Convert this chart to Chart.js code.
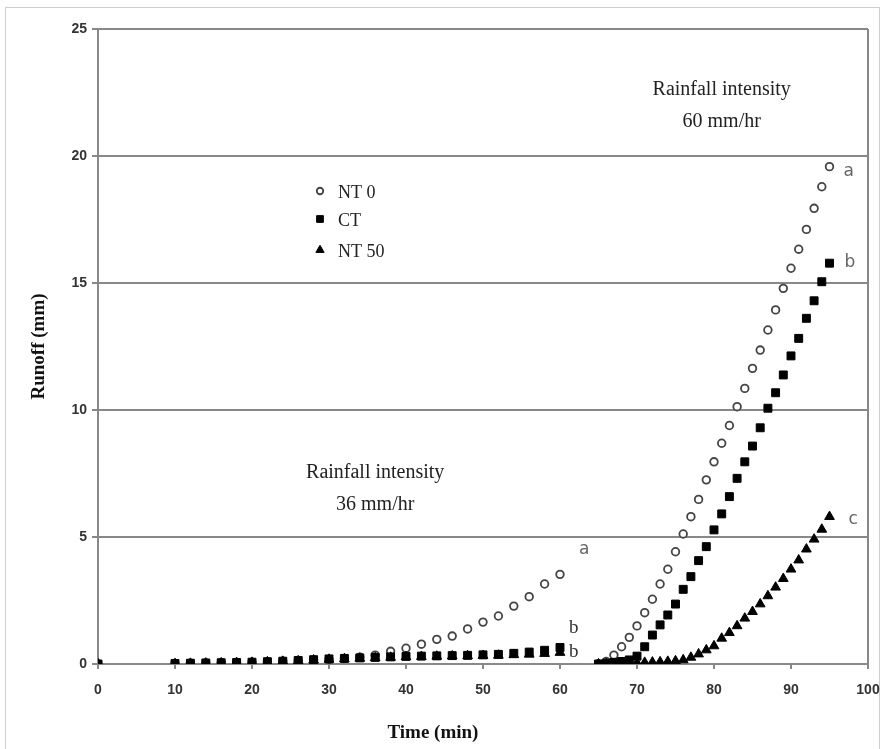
<!DOCTYPE html>
<html>
<head>
<meta charset="utf-8">
<script src="https://cdn.jsdelivr.net/npm/chart.js@4.4.0/dist/chart.umd.min.js"></script>
<style>
html,body{margin:0;padding:0;background:#fff}
#wrap{width:883px;height:749px;position:relative}
</style>
</head>
<body>
<div id="wrap"><canvas id="runoff" width="883" height="749"></canvas></div>
<script>
// first storm: 36 mm/hr, readings every 2 min
const time36=[0,10,12,14,16,18,20,22,24,26,28,30,32,34,36,38,40,42,44,46,48,50,52,54,56,58,60];
const nt0_36 =[0,0.02,0.03,0.04,0.05,0.06,0.07,0.09,0.11,0.13,0.15,0.18,0.22,0.27,0.35,0.5,0.62,0.78,0.97,1.1,1.38,1.65,1.89,2.28,2.65,3.15,3.53];
const ct_36  =[0,0.02,0.03,0.04,0.05,0.06,0.07,0.09,0.11,0.14,0.17,0.2,0.22,0.24,0.26,0.28,0.3,0.31,0.32,0.33,0.34,0.36,0.38,0.42,0.47,0.54,0.65];
const nt50_36=[0,0.01,0.02,0.03,0.04,0.05,0.06,0.08,0.1,0.12,0.15,0.18,0.2,0.22,0.24,0.26,0.28,0.29,0.3,0.31,0.32,0.33,0.34,0.36,0.38,0.41,0.45];

// second storm: 60 mm/hr, readings every minute
const time60=[65,66,67,68,69,70,71,72,73,74,75,76,77,78,79,80,81,82,83,84,85,86,87,88,89,90,91,92,93,94,95];
const nt0_60 =[0,0.1,0.35,0.68,1.05,1.5,2.02,2.55,3.15,3.73,4.42,5.12,5.8,6.48,7.25,7.96,8.69,9.39,10.13,10.85,11.64,12.36,13.15,13.94,14.79,15.58,16.33,17.11,17.94,18.79,19.58];
const ct_60  =[0,0.03,0.06,0.1,0.16,0.31,0.68,1.14,1.54,1.93,2.36,2.94,3.44,4.07,4.62,5.28,5.91,6.59,7.31,7.96,8.58,9.3,10.07,10.68,11.38,12.13,12.82,13.61,14.3,15.05,15.78];
const nt50_60=[0,0.01,0.02,0.03,0.04,0.05,0.06,0.07,0.08,0.1,0.12,0.16,0.26,0.39,0.55,0.71,1.01,1.23,1.5,1.8,2.06,2.36,2.68,3.02,3.36,3.73,4.09,4.52,4.91,5.3,5.8];

const seriesNames=['NT 0','CT','NT 50'];
// significance letters at the end of each storm
const letters36=['a','b','b'];
const letters60=['a','b','c'];

const GRID='#888';
const SERIF='"Liberation Serif","Times New Roman",serif';
const TICKFONT='"Liberation Sans Narrow","Liberation Sans",Arial,sans-serif';

function pts(t,v){return t.map((x,i)=>({x:x,y:v[i]}));}

const datasets=[
  {label:seriesNames[0],data:pts(time36,nt0_36).concat(pts(time60,nt0_60)),
   pointStyle:'circle',pointRadius:3.8,borderWidth:1.8,borderColor:'#444',backgroundColor:'#fff',order:3},
  {label:seriesNames[1],data:pts(time36,ct_36).concat(pts(time60,ct_60)),
   pointStyle:'rect',pointRadius:5.6,borderWidth:1,borderColor:'#000',backgroundColor:'#000',order:1},
  {label:seriesNames[2],data:pts(time36,nt50_36).concat(pts(time60,nt50_60)),
   pointStyle:'triangle',pointRadius:5.6,borderWidth:1,borderColor:'#000',backgroundColor:'#000',order:2},
];

const frame={
  id:'frame',
  beforeDraw(chart){
    const c=chart.ctx;
    c.save();
    c.fillStyle='#fff';c.fillRect(0,0,chart.width,chart.height);
    c.strokeStyle='#cfcfcf';c.lineWidth=1;
    c.strokeRect(5.5,7.5,874,760);
    c.restore();
  }
};

const notes={
  id:'notes',
  afterDatasetsDraw(chart){
    const c=chart.ctx,xs=chart.scales.x,ys=chart.scales.y,a=chart.chartArea;
    c.save();
    // storm intensity captions
    c.fillStyle='#222';c.font='20px '+SERIF;c.textAlign='center';c.textBaseline='middle';
    c.fillText('Rainfall intensity',xs.getPixelForValue(81),ys.getPixelForValue(22.6));
    c.fillText('60 mm/hr',xs.getPixelForValue(81),ys.getPixelForValue(21.35));
    c.fillText('Rainfall intensity',xs.getPixelForValue(36),ys.getPixelForValue(7.52));
    c.fillText('36 mm/hr',xs.getPixelForValue(36),ys.getPixelForValue(6.26));

    // x title sits left of the axis centre
    c.fillStyle='#111';c.font='bold 19px '+SERIF;
    c.fillText('Time (min)',xs.getPixelForValue(43.5),733);

    // letters next to the last reading of each storm
    const n36=time36.length-1,n60=time36.length+time60.length-1;
    const off36=[[19,-25],[9,-19],[9,-1]];
    const off60=[[14,5],[15,-1],[19,3]];
    c.textAlign='left';
    datasets.forEach((ds,i)=>{
      const meta=chart.getDatasetMeta(i);
      const p36=meta.data[n36],p60=meta.data[n60];
      c.fillStyle=i===0?'#666':'#333';
      c.font=(i===0?'17px "DejaVu Sans",sans-serif':'19px '+SERIF);
      c.fillText(letters36[i],p36.x+off36[i][0],p36.y+off36[i][1]);
      c.fillStyle='#666';c.font='17px "DejaVu Sans",sans-serif';
      c.fillText(letters60[i],p60.x+off60[i][0],p60.y+off60[i][1]);
    });

    // legend inside the plot
    const lx=a.left+222,rows=[a.top+162,a.top+190,a.top+221];
    c.font='18px '+SERIF;
    datasets.forEach((ds,i)=>{
      c.fillStyle=ds.backgroundColor;c.strokeStyle=ds.borderColor;c.lineWidth=ds.borderWidth;
      Chart.helpers.drawPoint(c,{pointStyle:ds.pointStyle,radius:ds.pointRadius*0.85,borderWidth:ds.borderWidth},lx,rows[i]);
      c.fillStyle='#222';
      c.fillText(ds.label,lx+18,rows[i]+2);
    });
    c.restore();
  }
};

new Chart(document.getElementById('runoff'),{
  type:'scatter',
  data:{datasets},
  plugins:[frame,notes],
  options:{
    responsive:false,animation:false,devicePixelRatio:1,
    layout:{padding:{left:0,top:29,right:15,bottom:0}},
    plugins:{legend:{display:false},tooltip:{enabled:false}},
    scales:{
      x:{type:'linear',min:0,max:100,
        ticks:{stepSize:10,color:'#333',padding:13,font:{family:TICKFONT,size:14,weight:'bold'}},
        grid:{drawOnChartArea:true,color:ctx=>ctx.tick&&ctx.tick.value===100?GRID:'rgba(0,0,0,0)',
              tickColor:GRID,tickLength:5,lineWidth:2},
        border:{color:GRID,width:2},
        title:{display:false},
        afterFit:s=>{s.height=85;s.paddingRight=0;s.paddingLeft=0;}
      },
      y:{min:0,max:25,
        ticks:{stepSize:5,color:'#333',padding:5,font:{family:TICKFONT,size:14,weight:'bold'}},
        grid:{color:GRID,tickColor:GRID,tickLength:6,lineWidth:2},
        border:{color:GRID,width:2},
        title:{display:true,text:'Runoff (mm)',color:'#111',padding:{top:28,bottom:0},
               font:{family:SERIF,size:19,weight:'bold'}},
        afterFit:s=>{s.width=98;s.paddingTop=0;s.paddingBottom=0;}
      }
    }
  }
});
</script>
</body>
</html>
